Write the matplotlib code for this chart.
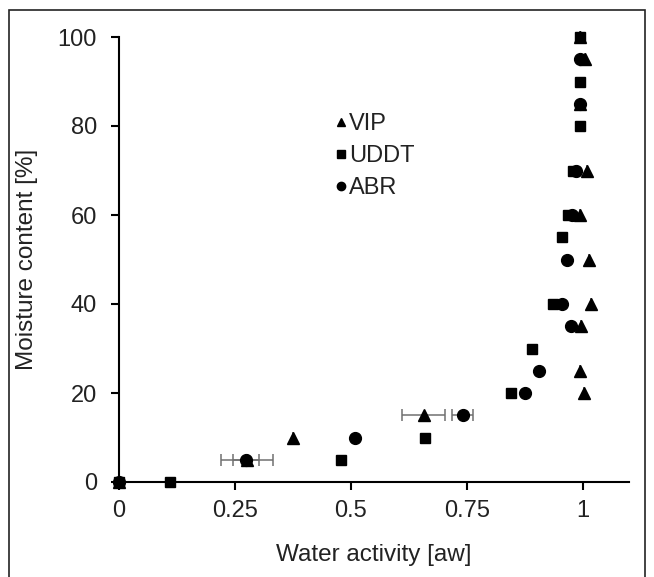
import matplotlib.pyplot as plt
from matplotlib.patches import Rectangle
from matplotlib.lines import Line2D

plt.rcParams['font.family'] = ['Liberation Sans', 'DejaVu Sans']

# VIP (triangles)
vip_x = [0, 0.276, 0.375, 0.657, 1.004, 0.994, 0.996, 1.017, 1.013, 0.994, 1.009, 0.994, 1.006, 0.994]
vip_y = [0, 5, 10, 15, 20, 25, 35, 40, 50, 60, 70, 85, 95, 100]
vip_err = [0, 0.056, 0, 0.046, 0, 0, 0, 0, 0, 0, 0, 0, 0, 0]

# UDDT (squares)
uddt_x = [0, 0.11, 0.478, 0.66, 0.845, 0.89, 0.935, 0.955, 0.968, 0.98, 0.994, 0.994, 0.994]
uddt_y = [0, 0, 5, 10, 20, 30, 40, 55, 60, 70, 80, 90, 100]

# ABR (circles)
abr_x = [0, 0.274, 0.509, 0.741, 0.875, 0.905, 0.974, 0.955, 0.966, 0.978, 0.985, 0.994, 0.994]
abr_y = [0, 5, 10, 15, 20, 25, 35, 40, 50, 60, 70, 85, 95]
abr_err = [0, 0.029, 0, 0.022, 0, 0, 0, 0, 0, 0, 0, 0, 0]

series = ['VIP', 'UDDT', 'ABR']
markers = ['^', 's', 'o']

fig = plt.figure(figsize=(6.54, 5.77), dpi=100)
ax = fig.add_axes([119/654, 1-482/577, 510/654, 445/577])

ekw = dict(ecolor='#707070', elinewidth=1.1, capsize=4, capthick=1.1)
ax.errorbar(vip_x, vip_y, xerr=vip_err, fmt='^', color='black', ms=8.5, clip_on=False, **ekw)
ax.plot(uddt_x, uddt_y, 's', color='black', ms=7.5, clip_on=False)
ax.errorbar(abr_x, abr_y, xerr=abr_err, fmt='o', color='black', ms=8.5, clip_on=False, **ekw)

ax.set_xlim(0, 1.1)
ax.set_ylim(0, 100)
ax.set_xticks([0, 0.25, 0.5, 0.75, 1])
ax.set_xticklabels(['0', '0.25', '0.5', '0.75', '1'])
ax.set_yticks([0, 20, 40, 60, 80, 100])

for s in ['top', 'right']:
    ax.spines[s].set_visible(False)
for s in ['left', 'bottom']:
    ax.spines[s].set_linewidth(1.5)
ax.tick_params(direction='out', length=6, width=1.5, labelsize=17, colors='black')
ax.tick_params(axis='y', pad=10)
ax.tick_params(axis='x', pad=7)
for t in ax.get_xticklabels() + ax.get_yticklabels():
    t.set_color('#222222')

ax.set_xlabel('Water activity [aw]', fontsize=17.5, color='#222222', labelpad=16)
ax.set_ylabel('Moisture content [%]', fontsize=17.5, color='#222222', labelpad=14)

handles = [Line2D([], [], marker=m, color='black', linestyle='none', ms=6) for m in markers]
leg = ax.legend(handles, series, loc='upper left', bbox_to_anchor=(0.40, 0.855), frameon=False,
                fontsize=17, handlelength=0.5, handletextpad=0.1,
                labelspacing=0.42, borderpad=0)
for t in leg.get_texts():
    t.set_color('#222222')

# figure border
fig.patches.append(Rectangle((9/654, -0.01), (645-9)/654, 1.01 - 10/577,
                             transform=fig.transFigure, fill=False,
                             edgecolor='#222222', linewidth=1.2))

fig.savefig('out.png', dpi=100)
